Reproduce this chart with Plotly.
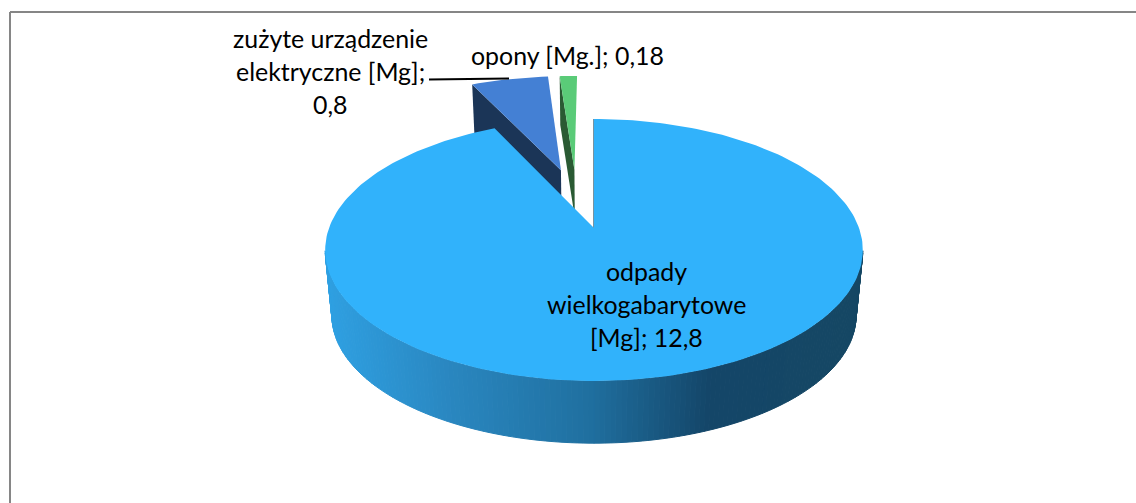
import math
import plotly.graph_objects as go

# ---- data ----
labels = ["odpady wielkogabarytowe [Mg]", "zużyte urządzenie elektryczne [Mg]", "opony [Mg.]"]
values = [12.8, 0.8, 0.18]
label_lines = [["odpady", "wielkogabarytowe", "[Mg]; 12,8"],
               ["zużyte urządzenie", "elektryczne [Mg];", "0,8"],
               ["opony [Mg.]; 0,18"]]

# ---- style / projection ----
CX, CY = 594.0, 228.0      # projected pivot of the biggest slice
RX, RY, K = 265.0, 127.3, 0.168
DEPTH_DY, DEPTH_S = 66.0, 0.975
offsets = [(0.0, 0.0), (-0.135, 0.49), (-0.08, 0.495)]
wall_scale = [1.0, 0.7, 0.7]
top_colors = ["#31B2FB", "#4480D4", "#5ACB78"]
side_colors = ["#15465F", "#1B3557", "#2A5A33"]
grad = [(326, (47, 160, 226)), (450, (42, 135, 192)), (590, (32, 112, 160)),
        (710, (20, 70, 105)), (864, (22, 72, 100))]
FONT = dict(family="Lato", size=24.9, color="#000000")


def proj(X, Y, low=0.0):
    w = 1 + K * Y
    x = RX * X / w
    y = -RY * Y / w
    if low:
        return CX + x * (1 - (1 - DEPTH_S) * low), CY + y * (1 - (1 - DEPTH_S) * low) + DEPTH_DY * low
    return CX + x, CY + y


def rim(i, a, low=False):
    ox, oy = offsets[i]
    t = math.radians(a)
    return proj(ox + math.sin(t), oy + math.cos(t), wall_scale[i] if low else 0.0)


def apex(i, low=False):
    return proj(offsets[i][0], offsets[i][1], wall_scale[i] if low else 0.0)


def grad_col(x):
    for (x0, c0), (x1, c1) in zip(grad, grad[1:]):
        if x <= x1:
            f = max(0, (x - x0) / (x1 - x0))
            return "rgb(%d,%d,%d)" % tuple(c0[j] + f * (c1[j] - c0[j]) for j in range(3))
    return "rgb(%d,%d,%d)" % grad[-1][1]


def poly(pts, fill, line=None, width=0):
    xs = [p[0] for p in pts] + [pts[0][0]]
    ys = [p[1] for p in pts] + [pts[0][1]]
    return go.Scatter(x=xs, y=ys, mode="lines", fill="toself", fillcolor=fill,
                      line=dict(color=line or fill, width=width), hoverinfo="skip",
                      showlegend=False)


# slice angles, clockwise from the top; first slice starts at 0
total = sum(values)
spans = []
start = 0.0
for v in values:
    spans.append((start, start + 360 * v / total))
    start += 360 * v / total

fig = go.Figure()

# small slices: radial side face, then top face
for i in (1, 2):
    a0, a1 = spans[i]
    fig.add_trace(poly([rim(i, a0), apex(i), apex(i, True), rim(i, a0, True)], side_colors[i]))
    fig.add_trace(poly([apex(i)] + [rim(i, a0 + (a1 - a0) * n / 12) for n in range(13)], top_colors[i]))

# big slice: cut face, rounded wall with gradient, top face
a0, a1 = spans[0]
fig.add_trace(poly([rim(0, a0), apex(0), apex(0, True), rim(0, a0, True)], side_colors[0], width=0.7))
a = 100.0
while a < 260:
    p = [rim(0, a), rim(0, a + 1), rim(0, a + 1, True), rim(0, a, True)]
    col = grad_col(rim(0, a + 0.5)[0])
    fig.add_trace(poly(p, col, width=1))
    a += 1
fig.add_trace(poly([apex(0)] + [rim(0, a0 + (a1 - a0) * n / 240) for n in range(241)], top_colors[0]))

# leader line
fig.add_shape(type="line", x0=429, y0=79.5, x1=509, y1=78.5, line=dict(color="#000000", width=2))
# frame
fig.add_shape(type="line", x0=10, y0=12, x1=1136, y1=12, line=dict(color="#868686", width=2))
fig.add_shape(type="line", x0=10, y0=12, x1=10, y1=503, line=dict(color="#868686", width=2))

places = [(646, [271, 304, 337]), (330, [38, 71, 104]), (567, [55])]
for lines, (x, ys) in zip(label_lines, places):
    for t, y in zip(lines, ys):
        fig.add_annotation(x=x, y=y, text=t, showarrow=False, font=FONT, xanchor="center", yanchor="middle")

fig.update_layout(width=1136, height=503, margin=dict(l=0, r=0, t=0, b=0),
                  paper_bgcolor="white", plot_bgcolor="white", showlegend=False,
                  xaxis=dict(range=[0, 1136], visible=False, fixedrange=True),
                  yaxis=dict(range=[503, 0], visible=False, fixedrange=True))
fig.write_html("out.html", config={"displayModeBar": False},
               post_script="document.body.style.margin='0';")
